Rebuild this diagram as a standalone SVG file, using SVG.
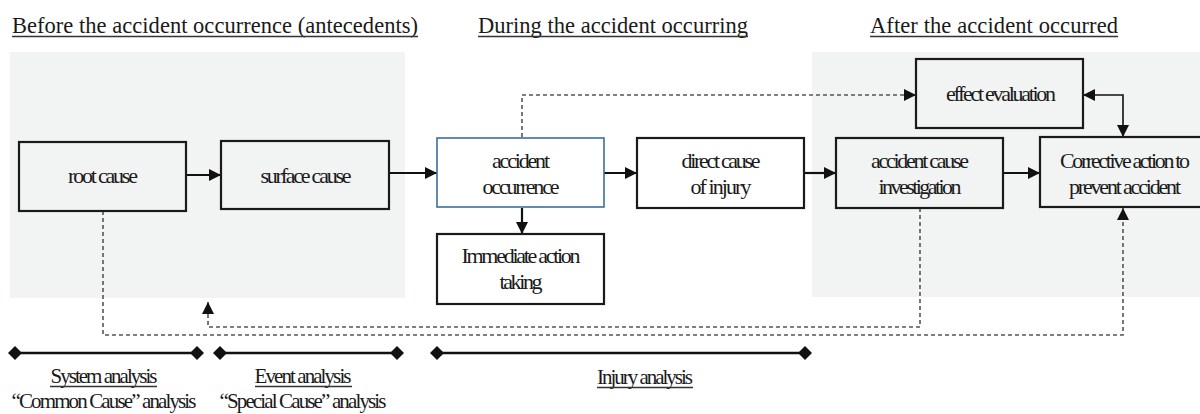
<svg xmlns="http://www.w3.org/2000/svg" width="1200" height="414" viewBox="0 0 1200 414">
<style>
.bg{fill:#f2f3f3}
.box{fill:none;stroke:#1a1a1a;stroke-width:2.2}
.blue{fill:none;stroke:#3d6e9e;stroke-width:1.6}
.t{font-family:"Liberation Serif","Times New Roman",serif;fill:#1a1a1a}
.title{font-size:22.5px}
.bt{font-size:22px;text-anchor:middle}
.lab{font-size:21px;text-anchor:middle}
.ul{stroke:#333;stroke-width:1.3}
.solid{fill:none;stroke:#111;stroke-width:2.2;marker-end:url(#arr)}
.dash{fill:none;stroke:#555;stroke-width:1.6;stroke-dasharray:4 3;marker-end:url(#arr)}
.bar{fill:none;stroke:#111;stroke-width:2.6;marker-start:url(#dia);marker-end:url(#dia)}
</style>
<defs>
<marker id="arr" markerUnits="userSpaceOnUse" markerWidth="14" markerHeight="14" refX="12" refY="7" orient="auto-start-reverse">
<path d="M0,1 L12,7 L0,13 z" fill="#111"/>
</marker>
<marker id="dia" markerUnits="userSpaceOnUse" markerWidth="14" markerHeight="14" refX="7" refY="7" orient="auto">
<path d="M0,7 L7,0 L14,7 L7,14 z" fill="#111"/>
</marker>
</defs>

<g id="panels">
<rect class="bg" x="10" y="52" width="395" height="246"/>
<rect class="bg" x="812" y="52" width="388" height="245"/>
</g>

<g id="titles">
<text class="t title" x="12" y="33" textLength="406">Before the accident occurrence (antecedents)</text>
<line class="ul" x1="12" y1="36.5" x2="418" y2="36.5"/>
<text class="t title" x="478" y="33" textLength="270">During the accident occurring</text>
<line class="ul" x1="478" y1="36.5" x2="748" y2="36.5"/>
<text class="t title" x="870" y="33" textLength="248">After the accident occurred</text>
<line class="ul" x1="870" y1="36.5" x2="1118" y2="36.5"/>
</g>

<g id="connectors">
<path class="solid" d="M186,175 H221"/>
<path class="solid" d="M389,173 H437"/>
<path class="solid" d="M604,173 H637"/>
<path class="solid" d="M804,173 H836"/>
<path class="solid" d="M1003,173 H1040"/>
<path class="solid" d="M522,208 V234"/>
<path class="solid" style="stroke-width:1.6;marker-start:url(#arr)" d="M1083,95 H1123 V137"/>
<path class="dash" d="M522,137 V95 H916"/>
<path class="dash" d="M920,208 V327 H208 V302"/>
<path class="dash" d="M103,211 V335 H1123 V208"/>
</g>

<g id="root-cause">
<rect class="box" x="19" y="142" width="167" height="69"/>
<text class="t bt" x="103" y="183" textLength="70">root cause</text>
</g>
<g id="surface-cause">
<rect class="box" x="221" y="141" width="168" height="68"/>
<text class="t bt" x="306" y="183" textLength="91">surface cause</text>
</g>
<g id="accident-occurrence">
<rect class="blue" x="437" y="138" width="167" height="69"/>
<text class="t bt" x="521" y="168" textLength="58">accident</text>
<text class="t bt" x="521" y="194" textLength="77">occurrence</text>
</g>
<g id="direct-cause">
<rect class="box" x="637" y="138" width="167" height="70"/>
<text class="t bt" x="721" y="168" textLength="79">direct cause</text>
<text class="t bt" x="721" y="194" textLength="61">of injury</text>
</g>
<g id="immediate-action">
<rect class="box" x="437" y="234" width="167" height="70"/>
<text class="t bt" x="521" y="263" textLength="119">Immediate action</text>
<text class="t bt" x="521" y="289" textLength="43">taking</text>
</g>
<g id="investigation">
<rect class="box" x="836" y="138" width="167" height="70"/>
<text class="t bt" x="920" y="168" textLength="98">accident cause</text>
<text class="t bt" x="920" y="194" textLength="83">investigation</text>
</g>
<g id="corrective-action">
<rect class="box" x="1040" y="137" width="170" height="70"/>
<text class="t bt" x="1125" y="168" textLength="130">Corrective action to</text>
<text class="t bt" x="1125" y="194" textLength="112">prevent accident</text>
</g>
<g id="effect-evaluation">
<rect class="box" x="916" y="59" width="167" height="69"/>
<text class="t bt" x="1001" y="101" textLength="110">effect evaluation</text>
</g>

<g id="analysis-bars">
<path class="bar" d="M15,353 H197"/>
<path class="bar" d="M220,353 H397"/>
<path class="bar" d="M437,353 H805"/>
</g>

<g id="analysis-labels">
<text class="t lab" x="104" y="383" textLength="107">System analysis</text>
<line class="ul" x1="50" y1="386.5" x2="157" y2="386.5"/>
<text class="t lab" x="104" y="408" textLength="185">“Common Cause” analysis</text>
<text class="t lab" x="303" y="383" textLength="97">Event analysis</text>
<line class="ul" x1="255" y1="386.5" x2="352" y2="386.5"/>
<text class="t lab" x="303" y="408" textLength="167">“Special Cause” analysis</text>
<text class="t lab" x="645" y="384" textLength="96">Injury analysis</text>
<line class="ul" x1="597" y1="387.5" x2="693" y2="387.5"/>
</g>
</svg>
